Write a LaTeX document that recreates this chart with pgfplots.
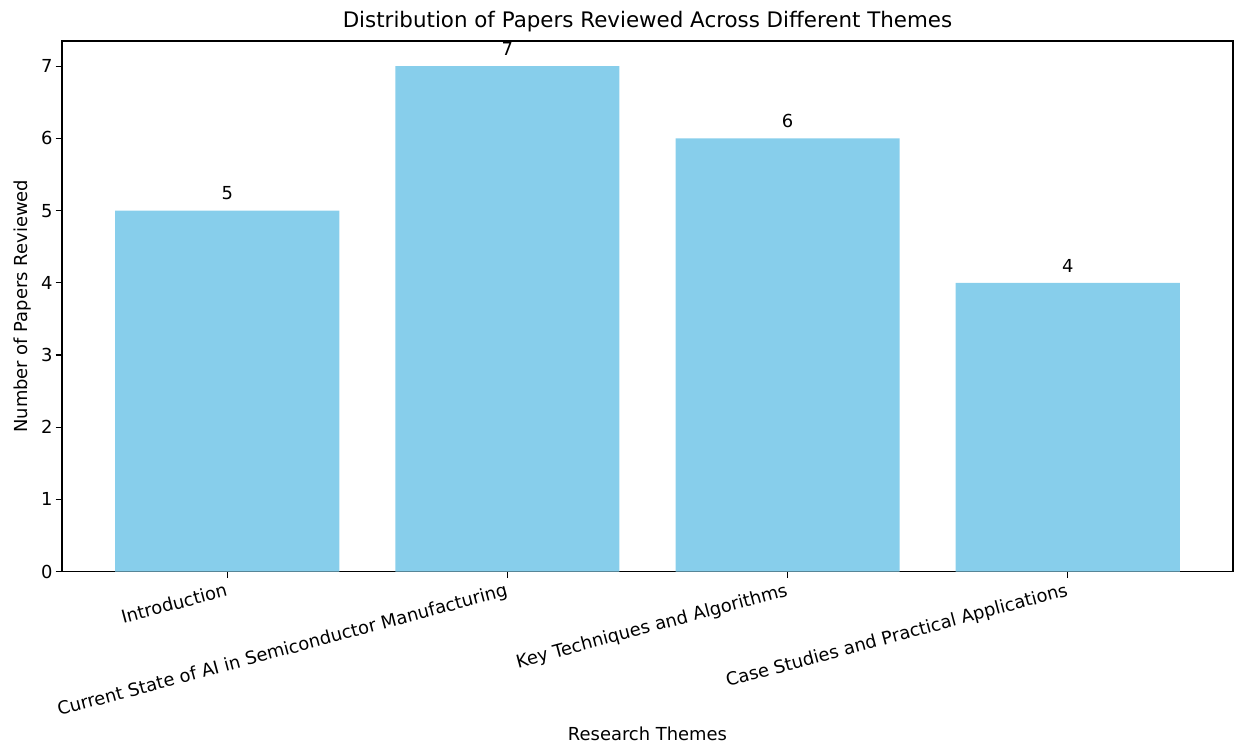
\documentclass[border=0pt]{standalone}
\usepackage{fontspec}
\setmainfont{DejaVu Sans}
\usepackage{pgfplots}
\pgfplotsset{compat=1.18}
\definecolor{skyblue}{RGB}{135,206,235}

\begin{document}
\begin{tikzpicture}
\begin{axis}[
    scale only axis,
    width=843pt, height=382pt,
    xmin=-0.59, xmax=3.59,
    ymin=0, ymax=7.35,
    xtick={0,1,2,3},
    xticklabels={Introduction,Current State of AI in Semiconductor Manufacturing,Key Techniques and Algorithms,Case Studies and Practical Applications},
    x tick label style={rotate=15, anchor=north east, font=\fontsize{12.9}{15}\selectfont, inner sep=2.5pt},
    ytick={0,1,2,3,4,5,6,7},
    y tick label style={font=\fontsize{12.9}{15}\selectfont, inner sep=2pt},
    /pgf/number format/assume math mode=true,
    tick align=outside,
    tick pos=left,
    major tick length=4.5pt,
    tick style={black, line width=0.9pt},
    axis line style={line width=0.9pt},
    title={Distribution of Papers Reviewed Across Different Themes},
    title style={font=\fontsize{15.4}{18}\selectfont, yshift=-3pt},
    xlabel={Research Themes},
    ylabel={Number of Papers Reviewed},
    label style={font=\fontsize{12.9}{15}\selectfont},
    xlabel style={yshift=1pt},
    ylabel style={yshift=2pt},
    ybar, bar width=0.8,
    nodes near coords,
    nodes near coords style={font=\fontsize{12.9}{15}\selectfont, black, yshift=4pt},
]
\addplot[fill=skyblue, draw=none] coordinates {(0,5) (1,7) (2,6) (3,4)};
\end{axis}
\pgfresetboundingbox
\path[use as bounding box] ([xshift=-44.6pt, yshift=-126pt]current axis.south west) rectangle ([xshift=0.7pt, yshift=29.5pt]current axis.north east);
\end{tikzpicture}
\end{document}
